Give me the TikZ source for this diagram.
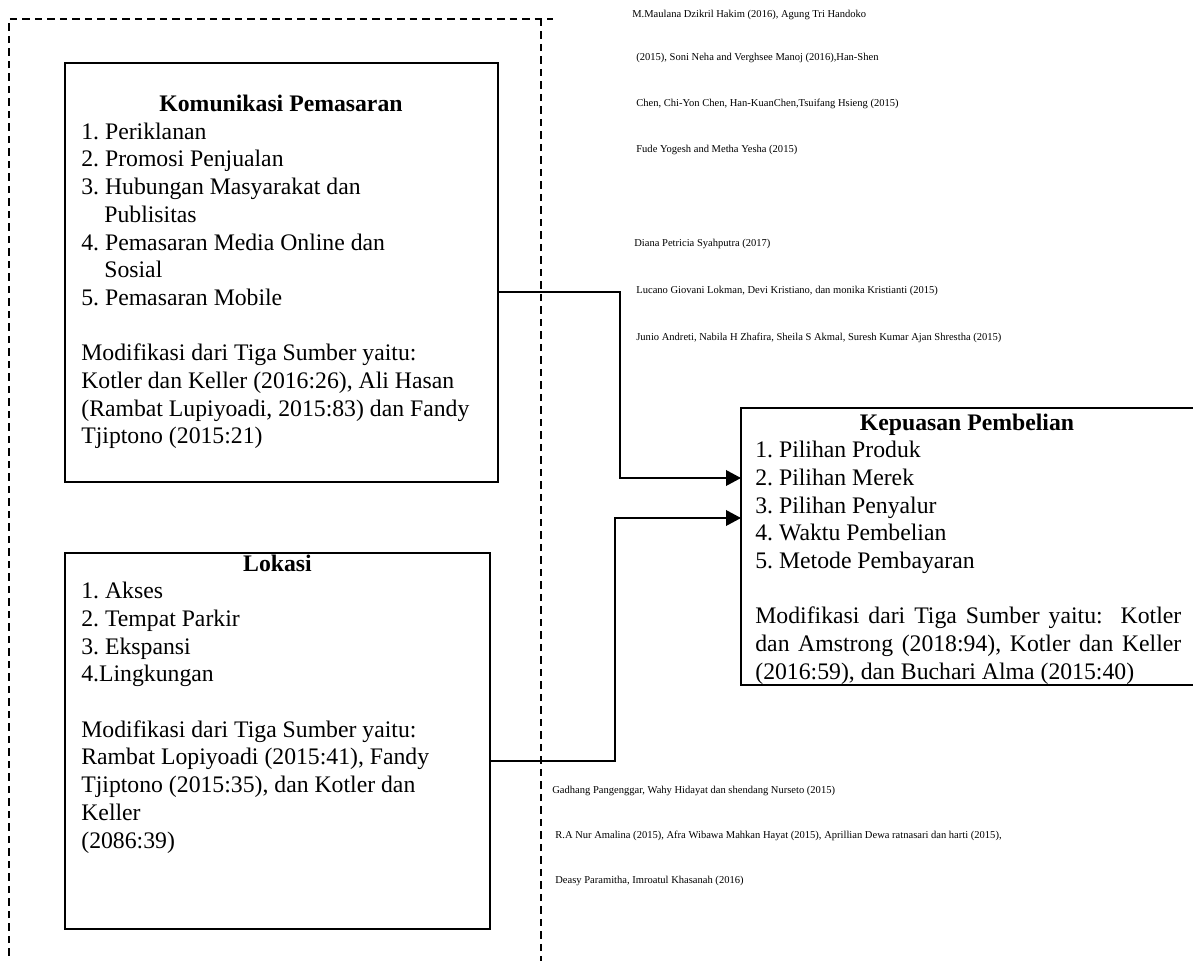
\documentclass[tikz,border=0pt]{standalone}
\usepackage{fontspec}
\setmainfont{Liberation Serif}
\usetikzlibrary{arrows.meta}
\frenchspacing
\newcommand{\linkarrowstyle}{-{Triangle[length=3mm,width=3.1mm]}}
\newcommand{\panelfont}{\fontsize{13.5}{15.8}\selectfont}
\newcommand{\srcfont}{\fontsize{6}{7}\selectfont}
\newcommand{\fullline}[1]{\makebox[8.52cm][s]{#1}}

\begin{document}
\begin{tikzpicture}[
    x=0.02cm, y=-0.02cm,
    panel/.style={draw, line width=1.15pt, inner sep=0pt, outer sep=0pt, anchor=north west},
    head/.style={anchor=base, inner sep=0pt, font=\panelfont\bfseries},
    ln/.style={anchor=base west, inner sep=0pt, font=\panelfont},
    src/.style={anchor=base west, inner sep=0pt, font=\srcfont},
    link/.style={\linkarrowstyle, line width=1.15pt},
    frame/.style={line width=0.7pt, dash pattern=on 0.15cm off 0.1cm}
]
  \def\lh{27.7}
  \useasboundingbox (0,0) rectangle (1193,960);

  % dashed frame round the two independent variables
  \draw[frame] (9,968) -- (9,19) -- (553,19);
  \draw[frame] (541,19) -- (541,968);

  % panels
  \node[panel, minimum width=8.66cm, minimum height=8.38cm] (kom) at (65,63) {};
  \node[panel, minimum width=8.5cm, minimum height=7.52cm] (lok) at (65,553) {};
  \node[panel, minimum width=9.2cm, minimum height=5.54cm] (kep) at (741,408) {};

  % komunikasi pemasaran
  \node[head] (kom-title) at (281,111.5) {Komunikasi Pemasaran};
  \foreach \r/\dx/\t in {1/0/{1. Periklanan}, 2/0/{2. Promosi Penjualan},
      3/0/{3. Hubungan Masyarakat dan}, 4/23/{Publisitas},
      5/0/{4. Pemasaran Media Online dan}, 6/23/{Sosial},
      7/0/{5. Pemasaran Mobile}, 9/0/{Modifikasi dari Tiga Sumber yaitu:},
      10/0/{Kotler dan Keller (2016:26), Ali Hasan},
      11/0/{(Rambat Lupiyoadi, 2015:83) dan Fandy},
      12/0/{Tjiptono (2015:21)}} {
    \node[ln] (kom-\r) at (81+\dx,111.5+\lh*\r) {\t};
  }

  % lokasi
  \node[head] (lok-title) at (277.5,571) {Lokasi};
  \foreach \r/\t in {1/{1. Akses}, 2/{2. Tempat Parkir}, 3/{3. Ekspansi},
      4/{4.Lingkungan}, 6/{Modifikasi dari Tiga Sumber yaitu:},
      7/{Rambat Lopiyoadi (2015:41), Fandy},
      8/{Tjiptono (2015:35), dan Kotler dan},
      9/{Keller}, 10/{(2086:39)}} {
    \node[ln] (lok-\r) at (81,571+\lh*\r) {\t};
  }

  % kepuasan pembelian
  \node[head] (kep-title) at (967,430) {Kepuasan Pembelian};
  \foreach \r/\t in {1/{1. Pilihan Produk}, 2/{2. Pilihan Merek},
      3/{3. Pilihan Penyalur}, 4/{4. Waktu Pembelian},
      5/{5. Metode Pembayaran},
      7/{\fullline{Modifikasi dari Tiga Sumber yaitu:\ \ Kotler}},
      8/{\fullline{dan Amstrong (2018:94), Kotler dan Keller}},
      9/{(2016:59), dan Buchari Alma (2015:40)}} {
    \node[ln] (kep-\r) at (755,430+\lh*\r) {\t};
  }

  % connectors
  \draw[link] (kom.east |- 0,292) -- (620,292) |- (kep.west |- 0,478);
  \draw[link] (lok.east |- 0,761) -- (615,761) |- (kep.west |- 0,518);

  % earlier studies
  \foreach \n/\x/\y/\t in {
      1/632/14/{M.Maulana Dzikril Hakim (2016), Agung Tri Handoko},
      2/636/57/{(2015), Soni Neha and Verghsee Manoj (2016),Han-Shen},
      3/636/103/{Chen, Chi-Yon Chen, Han-KuanChen,Tsuifang Hsieng (2015)},
      4/636/149/{Fude Yogesh and Metha Yesha (2015)},
      5/634/243/{Diana Petricia Syahputra (2017)},
      6/636/290/{Lucano Giovani Lokman, Devi Kristiano, dan monika Kristianti (2015)},
      7/636/337/{Junio Andreti, Nabila H Zhafira, Sheila S Akmal, Suresh Kumar Ajan Shrestha (2015)},
      8/552/790/{Gadhang Pangenggar, Wahy Hidayat dan shendang Nurseto (2015)},
      9/555/835/{R.A Nur Amalina (2015), Afra Wibawa Mahkan Hayat (2015), Aprillian Dewa ratnasari dan harti (2015),},
      10/555/880/{Deasy Paramitha, Imroatul Khasanah (2016)}} {
    \node[src] (src-\n) at (\x,\y+3.5) {\t};
  }
\end{tikzpicture}
\end{document}
